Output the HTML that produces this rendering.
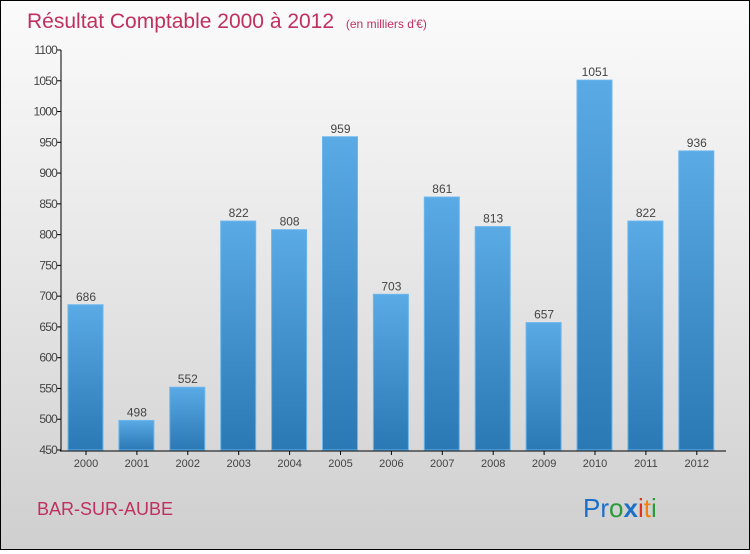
<!DOCTYPE html>
<html><head><meta charset="utf-8"><style>
body{margin:0;width:750px;height:550px;overflow:hidden;font-family:"Liberation Sans",sans-serif}
#c{position:absolute;left:0;top:0;width:748px;height:548px;border:1px solid #000;background:linear-gradient(#fbfbfb,#e8e8e8 45%,#cfcfcf)}
</style></head><body>
<div id="c">
<svg width="748" height="548">
<defs><linearGradient id="g" x1="0" y1="0" x2="0" y2="1"><stop offset="0" stop-color="#5aaae6"/><stop offset="1" stop-color="#2a78b4"/></linearGradient></defs>
<text x="26" y="27" font-size="21" fill="#c0305f">Résultat Comptable 2000 à 2012 <tspan font-size="12" dx="6">(en milliers d'€)</tspan></text>
<g id="plot"></g>
<text x="36" y="514" font-size="18" fill="#c0305f">BAR-SUR-AUBE</text>
<text x="582" y="516" font-size="26"><tspan fill="#1a6fc8">Pr</tspan><tspan fill="#2a9a3a">o</tspan><tspan fill="#1a6fc8" font-weight="bold">x</tspan><tspan fill="#e03020">i</tspan><tspan fill="#f08010">t</tspan><tspan fill="#2a9a3a">i</tspan></text>
</svg></div>
<script>
const years=["2000","2001","2002","2003","2004","2005","2006","2007","2008","2009","2010","2011","2012"];
const values=[686,498,552,822,808,959,703,861,813,657,1051,822,936];
const yTicks=[450,500,550,600,650,700,750,800,850,900,950,1000,1050,1100];
const NS="http://www.w3.org/2000/svg",p=document.getElementById('plot');
const y=v=>449-(v-450)*(400/650), x=i=>84+50.9*i;
function el(t,a,txt){const e=document.createElementNS(NS,t);for(const k in a)e.setAttribute(k,a[k]);if(txt!=null)e.textContent=txt;p.appendChild(e);return e;}
yTicks.forEach(v=>{
const t=el('line',{x1:56,x2:60,y1:y(v),y2:y(v),stroke:'#000'});


const l=el('text',{x:56,y:y(v)+4,'font-size':12,'text-anchor':'end',fill:'#444','letter-spacing':'-0.8'},v);


});
values.forEach((v,i)=>{
const b=el('rect',{x:x(i)-17,y:y(v),width:35,height:449-y(v),fill:'url(#g)',stroke:'#6bb6ee','stroke-width':1});


const t=el('text',{x:x(i)+1,y:y(v)-4,'font-size':12,'text-anchor':'middle',fill:'#444'},v);


const xl=el('text',{x:x(i)+1,y:466,'font-size':11,'text-anchor':'middle',fill:'#444'},years[i]);


const xt=el('line',{x1:x(i)+1,x2:x(i)+1,y1:450,y2:454,stroke:'#000'});


});
const ya=el('line',{x1:60,x2:60,y1:49,y2:450,stroke:'#000'});


const xa=el('line',{x1:59,x2:725,y1:450,y2:450,stroke:'#000'});


</script>
</body></html>
